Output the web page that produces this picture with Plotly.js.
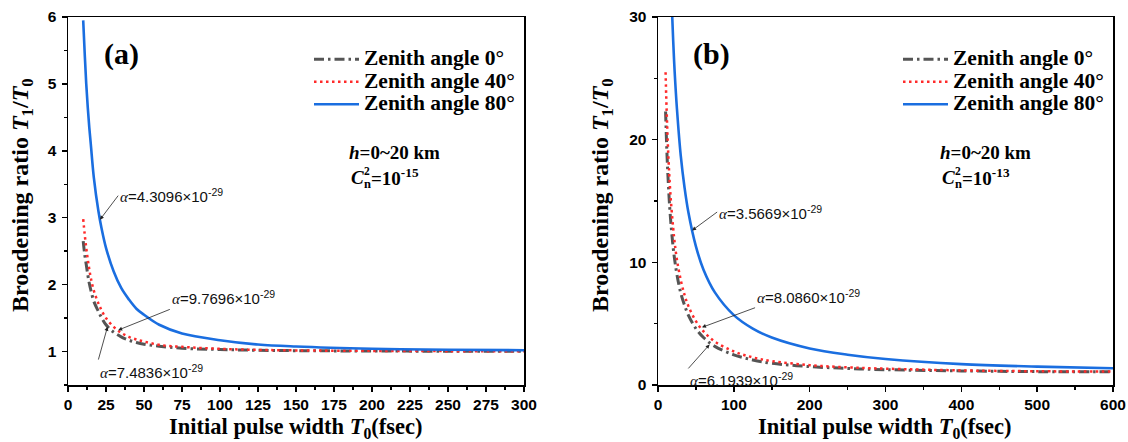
<!DOCTYPE html>
<html>
<head>
<meta charset="utf-8">
<script src="https://cdn.plot.ly/plotly-3.0.1.min.js"></script>
<style>html,body{margin:0;padding:0;background:#fff;}#chart{width:1128px;height:442px;}</style>
</head>
<body>
<div id="chart"></div>
<script>
// ---- data ----
const seriesNames = ['Zenith angle 0°', 'Zenith angle 40°', 'Zenith angle 80°'];

// panel (a): C_n^2 = 1e-15
const T0_a = [10,11,12,13,14,15,17,20,22,25,30,35,40,45,50,60,75,100,125,150,200,250,300];
const ratio_a_0  = [2.65,2.45,2.30,2.15,2.02,1.92,1.75,1.60,1.51,1.40,1.29,1.22,1.17,1.135,1.11,1.08,1.05,1.03,1.019,1.013,1.008,1.005,1.003];
const ratio_a_40 = [2.98,2.75,2.55,2.38,2.23,2.10,1.91,1.72,1.62,1.50,1.37,1.28,1.22,1.18,1.15,1.10,1.07,1.04,1.025,1.017,1.010,1.006,1.004];
const ratio_a_80 = [5.95,5.45,5.00,4.65,4.35,4.10,3.60,3.10,2.85,2.55,2.20,1.95,1.78,1.64,1.55,1.40,1.27,1.17,1.105,1.075,1.042,1.027,1.02];

// panel (b): C_n^2 = 1e-13
const T0_b = [10,11,12,13,14,15,17,20,22,25,30,35,40,50,60,75,100,125,150,200,250,300,400,500,600];
const ratio_b_0  = [22.3,20.3,18.6,17.2,16.0,14.9,13.2,11.2,10.2,9.0,7.5,6.5,5.7,4.6,3.87,3.15,2.46,2.04,1.77,1.50,1.35,1.25,1.15,1.09,1.07];
const ratio_b_40 = [25.5,23.2,21.3,19.6,18.2,17.0,15.0,12.8,11.6,10.2,8.56,7.35,6.45,5.2,4.37,3.54,2.74,2.25,1.95,1.62,1.44,1.33,1.19,1.12,1.09];
const ratio_b_80 = [56.1,51.0,46.8,43.2,40.1,37.4,33.0,28.1,25.5,22.5,18.7,16.1,14.1,11.3,9.4,7.55,5.7,4.6,3.87,2.98,2.47,2.12,1.70,1.50,1.37];

const xTicks_a = [0,25,50,75,100,125,150,175,200,225,250,275,300];
const yTicks_a = [1,2,3,4,5,6];
const xTicks_b = [0,100,200,300,400,500,600];
const yTicks_b = [0,10,20,30];

const alphaLabels = ['4.3096','9.7696','7.4836','3.5669','8.0860','6.1939'];

// ---- styles ----
const W = 1128, H = 442;
const px = v => v / W;
const py = v => 1 - v / H;
const styles = [
  {color:'#555555', width:3, dash:'10px,4px,2.5px,4px'},
  {color:'#ff2a2a', width:2.5, dash:'2.5px,3.5px'},
  {color:'#1a6ee0', width:2.6, dash:'solid'}
];
const serif = 'Liberation Serif';
const sans = 'Liberation Sans';

function mk(x, y, i, xa, ya, leg) {
  return {
    x: x, y: y, type: 'scatter', mode: 'lines',
    name: '<span style="font-size:21.5px"><b>' + seriesNames[i] + '</b></span>',
    xaxis: xa, yaxis: ya, legend: leg,
    line: {color: styles[i].color, width: styles[i].width, dash: styles[i].dash, shape: 'spline', smoothing: 1}
  };
}
const traces = [
  mk(T0_a, ratio_a_0, 0, 'x', 'y', 'legend'),
  mk(T0_a, ratio_a_40, 1, 'x', 'y', 'legend'),
  mk(T0_a, ratio_a_80, 2, 'x', 'y', 'legend'),
  mk(T0_b, ratio_b_0, 0, 'x2', 'y2', 'legend2'),
  mk(T0_b, ratio_b_40, 1, 'x2', 'y2', 'legend2'),
  mk(T0_b, ratio_b_80, 2, 'x2', 'y2', 'legend2')
];

function axis(dom, range, ticks, minor, anchor) {
  return {
    domain: dom, range: range, anchor: anchor,
    tickmode: 'array', tickvals: ticks, ticktext: ticks.map(t => '<b>' + t + '</b>'),
    showgrid: false, zeroline: false,
    showline: true, linecolor: '#000', linewidth: 1.5, mirror: true,
    ticks: 'outside', ticklen: 5, tickwidth: 1.5, tickcolor: '#000',
    minor: {dtick: minor, ticks: 'outside', ticklen: 3, tickwidth: 1.5, tickcolor: '#000', showgrid: false},
    tickfont: {family: sans, size: 15.5, color: '#000'},
    fixedrange: true
  };
}
const yDom = [py(385), py(17)];

const annFont = {family: sans, size: 15, color: '#111'};
function alphaAnn(i, xa, ya, tip, tail, xanchor, yanchor) {
  return {
    xref: xa, yref: ya, axref: xa, ayref: ya,
    x: tip[0], y: tip[1], ax: tail[0], ay: tail[1],
    text: '<span style="font-family:Liberation Serif;font-style:italic">α</span>=' + alphaLabels[i] + '×10<sup>-29</sup>',
    showarrow: true, arrowhead: 2, arrowsize: 1, arrowwidth: 0.8, arrowcolor: '#222',
    xanchor: xanchor, yanchor: yanchor, font: annFont, standoff: 0, startstandoff: 0
  };
}
function textAnn(x, y, text, size, xanchor) {
  return {xref: 'paper', yref: 'paper', x: px(x), y: py(y), text: '<b>' + text + '</b>', showarrow: false,
    xanchor: xanchor || 'left', yanchor: 'middle',
    font: {family: serif, size: size, color: '#000'}};
}
function condAnns(left, hy, cy, expo) {
  return [
    textAnn(left - 2, hy, '<i>h</i>=0~20 km', 19),
    textAnn(left, cy, '<i>C</i>', 19),
    textAnn(left + 13, cy - 6, '2', 11.5),
    textAnn(left + 13, cy + 7, 'n', 12.5),
    textAnn(left + 20, cy, '=10<sup>' + expo + '</sup>', 19)
  ];
}

const annotations = [
  alphaAnn(0, 'x', 'y', [21, 2.97], [33, 3.33], 'left', 'middle'),
  alphaAnn(1, 'x', 'y', [33, 1.32], [67, 1.63], 'left', 'bottom'),
  alphaAnn(2, 'x', 'y', [26, 1.37], [20, 0.88], 'left', 'top'),
  alphaAnn(3, 'x2', 'y2', [45, 12.6], [78, 14.1], 'left', 'middle'),
  alphaAnn(4, 'x2', 'y2', [58, 4.7], [128, 6.3], 'left', 'bottom'),
  alphaAnn(5, 'x2', 'y2', [68, 3.3], [40, 1.35], 'left', 'top'),
  textAnn(102, 54, '(a)', 30),
  textAnn(691, 54, '(b)', 30),
  {xref:'paper', yref:'paper', x: px(22), y: py(195), text: '<b>Broadening ratio <i>T</i><sub>1</sub>/<i>T</i><sub>0</sub></b>',
   textangle: -90, showarrow: false, xanchor: 'center', yanchor: 'middle', font: {family: serif, size: 24, color: '#000'}},
  {xref:'paper', yref:'paper', x: px(602), y: py(195), text: '<b>Broadening ratio <i>T</i><sub>1</sub>/<i>T</i><sub>0</sub></b>',
   textangle: -90, showarrow: false, xanchor: 'center', yanchor: 'middle', font: {family: serif, size: 24, color: '#000'}},
  {xref:'paper', yref:'paper', x: px(296), y: py(428), text: '<b>Initial pulse width <i>T</i><sub>0</sub>(fsec)</b>',
   showarrow: false, xanchor: 'center', yanchor: 'middle', font: {family: serif, size: 22.5, color: '#000'}},
  {xref:'paper', yref:'paper', x: px(885), y: py(428), text: '<b>Initial pulse width <i>T</i><sub>0</sub>(fsec)</b>',
   showarrow: false, xanchor: 'center', yanchor: 'middle', font: {family: serif, size: 22.5, color: '#000'}}
].concat(condAnns(349, 152, 177, '-15')).concat(condAnns(940, 152, 177, '-13'));

const legendBase = {
  xanchor: 'left', yanchor: 'top', bgcolor: 'rgba(0,0,0,0)', borderwidth: 0,
  font: {family: serif, size: 15, color: '#000'}, itemwidth: 45, tracegroupgap: 0,
  itemclick: false, itemdoubleclick: false
};

const layout = {
  width: W, height: H,
  margin: {l: 0, r: 0, t: 0, b: 0},
  paper_bgcolor: '#fff', plot_bgcolor: '#fff',
  showlegend: true,
  xaxis: axis([px(68), px(524)], [0, 300], xTicks_a, 12.5, 'y'),
  yaxis: Object.assign(axis(yDom, [0.5, 6], yTicks_a, 0.5, 'x'), {ticklabelstandoff: 2}),
  xaxis2: axis([px(658), px(1113)], [0, 600], xTicks_b, 50, 'y2'),
  yaxis2: Object.assign(axis(yDom, [0, 30], yTicks_b, 5, 'x2'), {ticklabelstandoff: 2}),
  legend: Object.assign({}, legendBase, {x: px(309), y: py(43)}),
  legend2: Object.assign({}, legendBase, {x: px(898), y: py(43)}),
  annotations: annotations
};

Plotly.newPlot('chart', traces, layout, {displayModeBar: false, staticPlot: true});
</script>
</body>
</html>
